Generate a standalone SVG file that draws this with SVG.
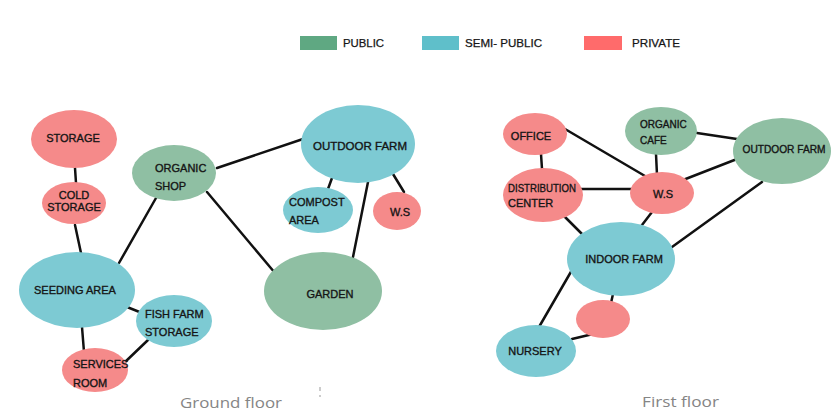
<svg xmlns="http://www.w3.org/2000/svg" width="839" height="420" viewBox="0 0 839 420">
<style>
.pub{fill:#8fbfa3}
.semi{fill:#7dcad3}
.priv{fill:#f58a8a}
.t{font-family:"Liberation Sans",Arial,sans-serif;font-size:11px;fill:#151515;stroke:#151515;stroke-width:0.35}
.s{font-size:10px}
.c{text-anchor:middle}
.lg{font-family:"Liberation Sans",Arial,sans-serif;font-size:11px;fill:#151515;stroke:#151515;stroke-width:0.25}
.fl{font-family:"Open Sans","DejaVu Sans",sans-serif;font-size:15px;fill:#858585}
#connectors line{stroke:#111;stroke-width:2.5;stroke-linecap:round}
</style>
<rect width="839" height="420" fill="#ffffff"/>
<g id="legend">
<rect x="300" y="36" width="37" height="14" fill="#5fa882"/>
<text class="lg" x="343" y="47" textLength="41" lengthAdjust="spacingAndGlyphs">PUBLIC</text>
<rect x="422" y="36" width="37" height="14" fill="#5fbfca"/>
<text class="lg" x="465" y="47" textLength="77" lengthAdjust="spacingAndGlyphs">SEMI- PUBLIC</text>
<rect x="584" y="36" width="38" height="14" fill="#ff6b6b"/>
<text class="lg" x="632" y="47" textLength="48" lengthAdjust="spacingAndGlyphs">PRIVATE</text>
</g>
<g id="connectors">
<line x1="75" y1="168" x2="76" y2="183"/>
<line x1="75" y1="225" x2="81" y2="253"/>
<line x1="119" y1="263" x2="156" y2="198"/>
<line x1="217" y1="168" x2="303" y2="139"/>
<line x1="207" y1="192" x2="275" y2="273"/>
<line x1="332" y1="178" x2="328" y2="189"/>
<line x1="393" y1="174" x2="404" y2="192"/>
<line x1="368" y1="182" x2="353" y2="257"/>
<line x1="127" y1="307" x2="142" y2="313"/>
<line x1="82" y1="327" x2="84" y2="352"/>
<line x1="148" y1="340" x2="124" y2="363"/>
<line x1="541" y1="154" x2="542" y2="169"/>
<line x1="565" y1="129" x2="645" y2="176"/>
<line x1="578" y1="189" x2="632" y2="189"/>
<line x1="656" y1="154" x2="657" y2="175"/>
<line x1="697" y1="133" x2="737" y2="139"/>
<line x1="683" y1="180" x2="737" y2="159"/>
<line x1="564" y1="216" x2="582" y2="234"/>
<line x1="652" y1="212" x2="642" y2="225"/>
<line x1="762" y1="182" x2="672" y2="247"/>
<line x1="572" y1="270" x2="539" y2="327"/>
<line x1="613" y1="294" x2="611" y2="303"/>
<line x1="593" y1="334" x2="572" y2="339"/>
</g>
<g id="gf-storage"><ellipse class="priv" cx="74" cy="139" rx="43" ry="29"/><text class="t c" x="73" y="142">STORAGE</text></g>
<g id="gf-cold-storage"><ellipse class="priv" cx="74" cy="203" rx="32" ry="21"/><text class="t c" x="74" y="199">COLD</text><text class="t c" x="74" y="211">STORAGE</text></g>
<g id="gf-organic-shop"><ellipse class="pub" cx="174" cy="173" rx="42" ry="28"/><text class="t" x="155" y="172">ORGANIC</text><text class="t" x="155" y="190">SHOP</text></g>
<g id="gf-outdoor-farm"><ellipse class="semi" cx="358" cy="144" rx="57" ry="39"/><text class="t c" x="360" y="150" textLength="94" lengthAdjust="spacingAndGlyphs">OUTDOOR FARM</text></g>
<g id="gf-compost-area"><ellipse class="semi" cx="318" cy="210" rx="35" ry="23"/><text class="t" x="289" y="206">COMPOST</text><text class="t" x="289" y="224">AREA</text></g>
<g id="gf-ws"><ellipse class="priv" cx="397" cy="211" rx="24" ry="19"/><text class="t c" x="400" y="216">W.S</text></g>
<g id="gf-seeding-area"><ellipse class="semi" cx="77" cy="290" rx="58" ry="38"/><text class="t c" x="75" y="294">SEEDING AREA</text></g>
<g id="gf-garden"><ellipse class="pub" cx="323" cy="291" rx="59" ry="39"/><text class="t c" x="330" y="298">GARDEN</text></g>
<g id="gf-fish-farm-storage"><ellipse class="semi" cx="174" cy="321" rx="38" ry="26"/><text class="t" x="145" y="318">FISH FARM</text><text class="t" x="145" y="336">STORAGE</text></g>
<g id="gf-services-room"><ellipse class="priv" cx="95" cy="370" rx="33" ry="22"/><text class="t" x="73" y="368">SERVICES</text><text class="t" x="73" y="387">ROOM</text></g>
<g id="ff-office"><ellipse class="priv" cx="535" cy="134" rx="32" ry="21"/><text class="t c" x="531" y="140">OFFICE</text></g>
<g id="ff-distribution-center"><ellipse class="priv" cx="543" cy="195" rx="40" ry="27"/><text class="t" x="508" y="192" font-size="9.5" textLength="68" lengthAdjust="spacingAndGlyphs">DISTRIBUTION</text><text class="t" x="508" y="207" font-size="9.5">CENTER</text></g>
<g id="ff-organic-cafe"><ellipse class="pub" cx="661" cy="131" rx="36" ry="24"/><text class="t s" x="640" y="128">ORGANIC</text><text class="t s" x="640" y="144">CAFE</text></g>
<g id="ff-outdoor-farm"><ellipse class="pub" cx="782" cy="151" rx="49" ry="33"/><text class="t s c" x="784" y="153" textLength="83" lengthAdjust="spacingAndGlyphs">OUTDOOR FARM</text></g>
<g id="ff-ws"><ellipse class="priv" cx="662" cy="193" rx="32" ry="21"/><text class="t c" x="663" y="198">W.S</text></g>
<g id="ff-indoor-farm"><ellipse class="semi" cx="621" cy="259" rx="54" ry="37"/><text class="t c" x="624" y="263" font-size="11.5">INDOOR FARM</text></g>
<g id="ff-private-room"><ellipse class="priv" cx="603" cy="319" rx="27" ry="19"/></g>
<g id="ff-nursery"><ellipse class="semi" cx="536" cy="351" rx="40" ry="26"/><text class="t c" x="535" y="355">NURSERY</text></g>
<g id="labels">
<text class="fl" x="180" y="408" textLength="102" lengthAdjust="spacingAndGlyphs">Ground floor</text>
<text class="fl" x="642" y="407" textLength="77" lengthAdjust="spacingAndGlyphs">First floor</text>
<line x1="320" y1="387" x2="320" y2="391" stroke="#999" stroke-width="1"/>
<line x1="320" y1="395" x2="320" y2="397" stroke="#999" stroke-width="1"/>
</g>
</svg>
